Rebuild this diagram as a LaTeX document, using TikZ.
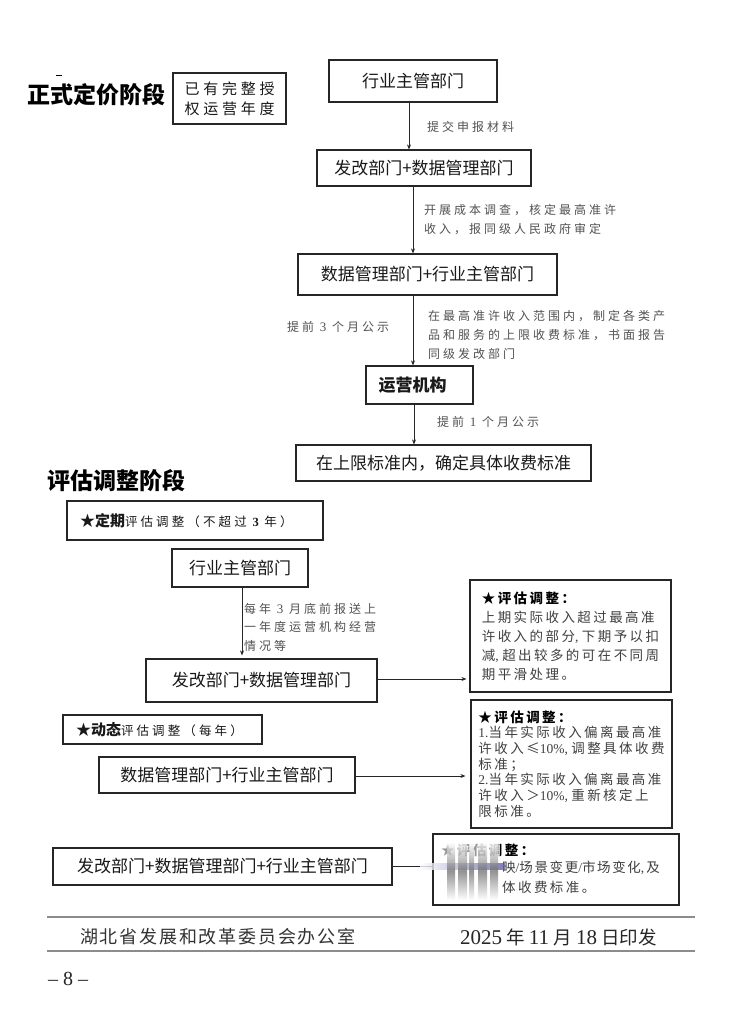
\documentclass[tikz,border=0pt]{standalone}
\usepackage{fontspec}
\setmainfont{Noto Sans CJK SC}
\newfontfamily\labfont[LetterSpace=25]{Noto Sans CJK SC}
\newfontfamily\notefont[LetterSpace=18]{Noto Sans CJK SC}
\newfontfamily\tightfont[LetterSpace=12]{Noto Sans CJK SC}
\newfontfamily\footfont[LetterSpace=10]{Noto Sans CJK SC}
\newfontfamily\tnr{Liberation Serif}
\newcommand\wcomma{{\tnr,}\hspace{3.5pt}}
\usetikzlibrary{arrows.meta,calc}
\tikzset{
  box/.style={draw=black!85, line width=1.2pt, inner sep=0pt, text=black!90,
    font=\fontsize{17}{20}\selectfont},
  lab/.style={text=black!68, inner sep=0pt, anchor=west, align=left,
    font=\labfont\fontsize{12}{19}\selectfont},
  arr/.style={-{Stealth[length=5pt,width=4pt]}, line width=0.8pt, draw=black!85},
  plain/.style={line width=0.8pt, draw=black!85},
  note/.style={box, align=left, text=black!75,
    font=\notefont\fontsize{13.5}{19}\selectfont},
  stage/.style={anchor=west, inner sep=0pt, font=\fontsize{23}{25}\selectfont\bfseries},
  rule/.style={line width=1.5pt, draw=black!45},
}
\begin{document}
\begin{tikzpicture}[x=1pt,y=-1pt]
\useasboundingbox (0,0) rectangle (746,1017);
\fill[white] (0,0) rectangle (746,1017);

% ---------- stage 1 ----------
\draw[line width=1pt] (56,75) -- (62,75);
\node[stage] (t1) at (27,95) {正式定价阶段};
\node[box, align=center, minimum width=113pt, minimum height=51pt,
  font=\labfont\fontsize{15}{20}\selectfont] (y) at (229.5,98.5) {已有完整授\\权运营年度};

\node[box, minimum width=168pt, minimum height=42pt] (a) at (413,81) {行业主管部门};
\node[box, minimum width=214pt, minimum height=36pt] (b) at (424,168) {发改部门+数据管理部门};
\node[box, minimum width=259pt, minimum height=41pt] (c) at (427.5,274.5) {数据管理部门+行业主管部门};
\node[box, minimum width=107pt, minimum height=38pt, font=\fontsize{17}{20}\selectfont\bfseries] (d) at (419.5,385) {运营机构\hspace*{14pt}};
\node[box, minimum width=295pt, minimum height=36pt] (e) at (443.5,463) {在上限标准内，确定具体收费标准};

\draw[arr] ([xshift=-4pt]a.south) -- ([xshift=-4pt]a.south |- b.north);
\draw[arr] ([xshift=-11pt]b.south) -- ([xshift=-11pt]b.south |- c.north);
\draw[arr] ([xshift=-14.5pt]c.south) -- ([xshift=-14.5pt]c.south |- d.north);
\draw[arr] ([xshift=-5.5pt]d.south) -- ([xshift=-5.5pt]d.south |- e.north);

\node[lab] (l1) at (427,127) {提交申报材料};
\node[lab] (l2) at (424,219.5) {开展成本调查，核定最高准许\\收入，报同级人民政府审定};
\node[lab] (l3) at (287,327) {提前 {\tnr\fontsize{13}{19}\selectfont 3} 个月公示};
\node[lab] (l4) at (428,335) {在最高准许收入范围内，制定各类产\\品和服务的上限收费标准，书面报告\\同级发改部门};
\node[lab] (l5) at (437,422) {提前 {\tnr\fontsize{13}{19}\selectfont 1} 个月公示};

% ---------- stage 2 ----------
\node[stage] (t2) at (47,481) {评估调整阶段};

\node[box, minimum width=256pt, minimum height=39pt, align=left, text width=230pt, inner xsep=13pt] (f) at (195,520.5)
  {{\fontsize{15}{18}\selectfont\bfseries ★定期}{\labfont\fontsize{12.5}{15}\selectfont 评估调整（不超过 {\tnr\bfseries 3} 年）}};
\node[box, minimum width=136pt, minimum height=38pt] (g) at (240,568) {行业主管部门};
\node[box, minimum width=231pt, minimum height=43pt] (h) at (261.5,680.5) {发改部门+数据管理部门};
\draw[arr, shorten >=3pt] ([xshift=2pt]g.south) -- ([xshift=2pt]g.south |- h.north);
\node[lab, font=\labfont\fontsize{12}{18.5}\selectfont] (l6) at (244,627) {每年 {\tnr\fontsize{13}{18}\selectfont 3} 月底前报送上\\一年度运营机构经营\\情况等};

\node[note, minimum width=201pt, minimum height=112pt] (r1) at (570.5,636)
  {{\bfseries\color{black}★评估调整：}\\上期实际收入超过最高准\\许收入的部分\wcomma 下期予以扣\\减\wcomma 超出较多的可在不同周\\期平滑处理。};
\draw[arr, shorten >=3pt] ([yshift=1.5pt]h.east) -- ([yshift=1.5pt]h.east -| r1.west);

\node[box, minimum width=199pt, minimum height=29pt, align=left, text width=173pt, inner xsep=13pt] (i) at (162.5,729.5)
  {{\fontsize{15}{18}\selectfont\bfseries ★动态}{\labfont\fontsize{12.5}{15}\selectfont 评估调整（每年）}};
\node[box, minimum width=256pt, minimum height=36pt] (j) at (227,775) {数据管理部门+行业主管部门};

\node[note, minimum width=201pt, minimum height=128pt,
  font=\notefont\fontsize{13.5}{15.7}\selectfont] (r2) at (571.5,764)
  {{\bfseries\color{black}★评估调整：}\\{\tnr 1.}当年实际收入偏离最高准\\许收入≤{\tnr 10\%}\wcomma 调整具体收费\\标准；\\{\tnr 2.}当年实际收入偏离最高准\\许收入＞{\tnr 10\%}\wcomma 重新核定上\\限标准。};
\draw[arr, shorten >=5pt] ([yshift=-1pt]j.east) -- ([yshift=-1pt]j.east -| r2.west);

\node[box, minimum width=339pt, minimum height=37pt] (k) at (222.5,866.5) {发改部门+数据管理部门+行业主管部门};
\node[box, minimum width=246pt, minimum height=71pt] (r3) at (556,869.5) {};
\draw[plain] (k.east) -- (k.east -| r3.west);
\node[anchor=west, inner sep=0pt, font=\notefont\fontsize{13.5}{16}\selectfont\bfseries] (r3h) at (441,850) {★评估调整：};
\node[anchor=west, inner sep=0pt, text=black!75, font=\tightfont\fontsize{13.5}{16}\selectfont] (r3a) at (502,868) {映{\tnr/}场景变更{\tnr/}市场变化{\tnr,}\hspace{2pt}及};
\node[anchor=west, inner sep=0pt, text=black!75, font=\notefont\fontsize{13.5}{16}\selectfont] (r3b) at (502,887) {体收费标准。};
% blurred patch over the left part of the last note
\fill[white] (436,857) rectangle (500,900);
\fill[white, opacity=0.6] (436,840) rectangle (500,857);
\shade[left color=white, right color=blue!25!gray, opacity=0.8] (420,863) rectangle (505,869);
\foreach \x/\w in {447/8, 458/9, 469/5, 478/9, 490/8}
  \shade[top color=white, bottom color=white, middle color=black!60, opacity=0.7] (\x,842) rectangle ++(\w,58);

% ---------- footer ----------
\draw[rule] (47,917) -- (695,917);
\draw[rule] (47,951) -- (695,951);
\node[anchor=west, inner sep=0pt, text=black!80, font=\footfont\fontsize{18}{20}\selectfont] (f1) at (80,937) {湖北省发展和改革委员会办公室};
\node[anchor=west, inner sep=0pt, text=black!85, font=\fontsize{18.5}{20}\selectfont] (f2) at (460,937)
  {{\tnr\fontsize{21}{22}\selectfont 2025} 年 {\tnr\fontsize{21}{22}\selectfont 11} 月 {\tnr\fontsize{21}{22}\selectfont 18} 日印发};
\node[anchor=west, inner sep=0pt, text=black!85, font=\tnr\fontsize{20}{22}\selectfont] (pg) at (48,979) {– 8 –};
\end{tikzpicture}
\end{document}
